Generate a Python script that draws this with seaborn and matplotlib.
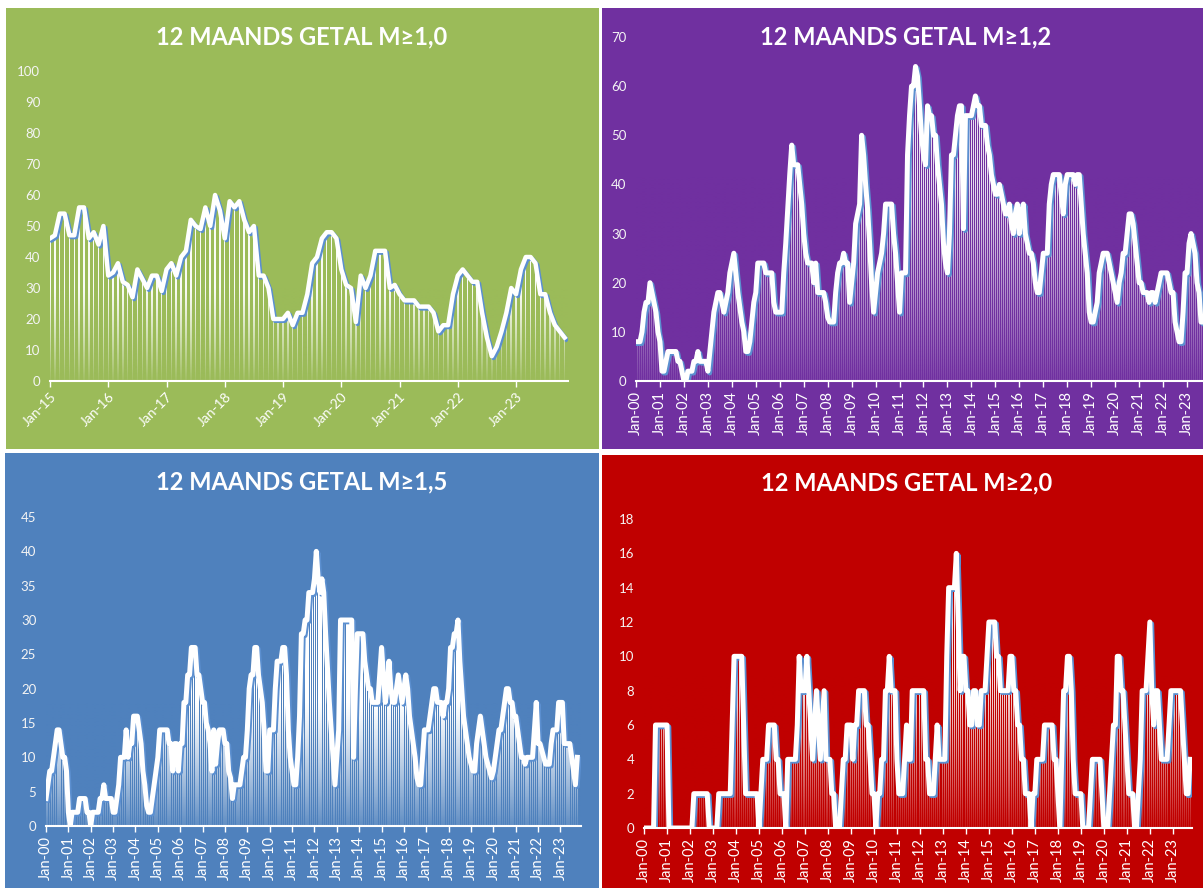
import numpy as np
import matplotlib
matplotlib.use("Agg")
import matplotlib.pyplot as plt
import matplotlib.patheffects as pe
from matplotlib.patches import Rectangle
from matplotlib.colors import to_rgb
import seaborn as sns

W, H = 1203, 888

# 12-month counts, monthly
m10_start = 2015
m10 = [46, 47, 54, 54, 47, 47, 56, 56, 46, 48, 44, 50,
       34, 35, 38, 32, 31, 27, 36, 33, 30, 34, 34, 29,
       36, 38, 34, 40, 42, 52, 50, 49, 56, 50, 60, 55,
       46, 58, 56, 58, 52, 48, 50, 34, 34, 30, 20, 20,
       20, 22, 18, 22, 22, 28, 38, 40, 46, 48, 48, 46,
       36, 31, 30, 19, 34, 30, 34, 42, 42, 42, 30, 31,
       28, 26, 26, 26, 24, 24, 24, 22, 16, 18, 18, 28,
       34, 36, 34, 32, 32, 22, 14, 8, 11, 16, 22, 30,
       28, 36, 40, 40, 38, 28, 28, 22, 18, 16, 14]

m12_start = 2000
m12 = [8, 8, 8, 10, 14, 16, 16, 20, 18, 16, 14, 10,
       8, 2, 2, 4, 6, 6, 6, 6, 6, 4, 4, 2,
       0, 0, 2, 2, 2, 4, 4, 6, 4, 4, 4, 4,
       2, 6, 10, 14, 16, 18, 18, 16, 14, 16, 18, 22,
       24, 26, 22, 18, 15, 12, 10, 6, 6, 8, 12, 16,
       18, 24, 24, 24, 24, 22, 22, 22, 22, 16, 14, 14,
       14, 14, 22, 28, 35, 42, 48, 44, 44, 44, 40, 36,
       30, 26, 24, 24, 24, 20, 24, 18, 18, 18, 18, 16,
       13, 12, 12, 12, 18, 22, 24, 24, 26, 24, 24, 16,
       20, 24, 32, 34, 36, 50, 46, 40, 35, 28, 20, 14,
       18, 22, 24, 26, 30, 36, 36, 36, 36, 30, 26, 20,
       14, 22, 22, 22, 46, 54, 60, 60, 64, 62, 56, 50,
       46, 44, 56, 54, 54, 50, 50, 44, 40, 36, 28, 24,
       22, 30, 46, 46, 50, 54, 56, 56, 31, 54, 54, 54,
       54, 56, 58, 56, 56, 52, 52, 52, 48, 46, 42, 40,
       38, 38, 40, 38, 36, 34, 34, 36, 32, 30, 34, 36,
       30, 34, 36, 30, 28, 26, 26, 24, 20, 18, 18, 22,
       26, 26, 26, 36, 40, 42, 42, 42, 42, 38, 34, 40,
       42, 42, 42, 42, 40, 42, 42, 36, 30, 26, 22, 14,
       12, 12, 14, 16, 22, 24, 26, 26, 26, 24, 22, 20,
       18, 16, 20, 22, 26, 26, 30, 34, 34, 32, 28, 24,
       20, 20, 18, 18, 18, 16, 18, 18, 16, 18, 20, 22,
       22, 22, 22, 20, 18, 18, 12, 10, 8, 8, 14, 22,
       22, 28, 30, 28, 26, 20, 18, 12, 12]

m15_start = 2000
m15 = [4, 6, 8, 8, 10, 12, 14, 14, 12, 10, 10, 8,
       2, 0, 2, 2, 2, 2, 4, 4, 4, 4, 2, 2,
       0, 2, 2, 2, 2, 4, 4, 6, 4, 4, 4, 4,
       2, 2, 4, 6, 10, 10, 10, 14, 10, 12, 12, 16,
       16, 16, 14, 12, 8, 6, 3, 2, 2, 4, 6, 8,
       10, 14, 14, 14, 14, 14, 12, 12, 8, 12, 12, 8,
       12, 12, 18, 18, 22, 22, 26, 26, 26, 22, 22, 20,
       18, 18, 15, 14, 12, 8, 14, 9, 12, 14, 14, 14,
       12, 12, 8, 7, 4, 6, 6, 6, 6, 8, 10, 10,
       14, 20, 22, 22, 26, 26, 22, 20, 18, 14, 8, 8,
       14, 14, 14, 20, 24, 24, 24, 26, 26, 22, 14, 10,
       8, 6, 6, 10, 16, 28, 28, 30, 30, 34, 34, 34,
       36, 40, 36, 34, 36, 34, 28, 23, 18, 14, 10, 6,
       10, 14, 30, 30, 30, 30, 30, 30, 30, 10, 20, 28,
       28, 28, 28, 24, 22, 20, 20, 18, 18, 18, 18, 22,
       26, 22, 18, 20, 24, 20, 18, 18, 20, 22, 20, 18,
       20, 22, 20, 16, 14, 12, 10, 7, 6, 6, 10, 14,
       14, 14, 16, 18, 20, 20, 18, 18, 18, 16, 18, 18,
       20, 26, 26, 28, 28, 30, 24, 20, 16, 14, 12, 10,
       9, 8, 8, 12, 14, 16, 14, 12, 10, 9, 8, 7,
       8, 10, 12, 14, 14, 16, 18, 20, 20, 18, 18, 16,
       16, 14, 12, 10, 10, 9, 10, 10, 10, 10, 14, 18,
       12, 12, 11, 10, 9, 9, 9, 12, 14, 14, 14, 18,
       18, 18, 12, 12, 12, 12, 10, 8, 6, 10]

m20_start = 2000
m20 = [0, 0, 0, 0, 0, 0, 6, 6, 6, 6, 6, 6,
       6, 0, 0, 0, 0, 0, 0, 0, 0, 0, 0, 0,
       0, 0, 2, 2, 2, 2, 2, 2, 2, 2, 0, 0,
       0, 0, 0, 2, 2, 2, 2, 2, 2, 2, 6, 10,
       10, 10, 10, 10, 6, 2, 2, 2, 2, 2, 2, 2,
       0, 2, 4, 4, 4, 6, 6, 6, 6, 4, 4, 2,
       2, 2, 0, 4, 4, 4, 4, 4, 6, 10, 8, 8,
       8, 10, 8, 6, 4, 6, 8, 6, 4, 6, 8, 4,
       4, 4, 2, 2, 0, 0, 0, 2, 4, 4, 6, 6,
       6, 4, 6, 6, 8, 8, 8, 8, 6, 6, 4, 2,
       2, 0, 2, 2, 4, 4, 8, 8, 10, 8, 8, 8,
       4, 2, 2, 2, 4, 6, 4, 4, 8, 8, 8, 8,
       8, 8, 8, 4, 4, 2, 2, 2, 4, 6, 4, 4,
       4, 4, 10, 14, 14, 14, 14, 16, 12, 8, 10, 10,
       8, 8, 6, 6, 8, 8, 6, 6, 8, 8, 8, 10,
       12, 12, 12, 12, 10, 10, 8, 8, 8, 8, 8, 10,
       10, 8, 8, 6, 6, 4, 4, 2, 2, 2, 0, 2,
       2, 4, 4, 4, 4, 6, 6, 6, 6, 6, 4, 4,
       2, 0, 4, 8, 8, 10, 10, 8, 4, 2, 2, 2,
       2, 0, 0, 0, 0, 2, 4, 4, 4, 4, 4, 2,
       0, 0, 0, 2, 4, 6, 6, 10, 10, 8, 8, 6,
       4, 2, 2, 2, 0, 0, 2, 4, 8, 8, 8, 10,
       12, 8, 6, 8, 8, 6, 4, 4, 4, 4, 6, 8,
       8, 8, 8, 8, 8, 6, 4, 2, 2, 4]

titles = ["12 MAANDS GETAL M\u22651,0", "12 MAANDS GETAL M\u22651,2",
          "12 MAANDS GETAL M\u22651,5", "12 MAANDS GETAL M\u22652,0"]

FONT = ["Lato", "DejaVu Sans"]


def frect(x0, y0, x1, y1):
    return [x0 / W, 1 - y1 / H, (x1 - x0) / W, (y1 - y0) / H]


def panel(fig, bg, color, title, tpos, vals, start, box, xmax, ymax, ystep,
          rot, bar_w, bar_alpha, fade_top, fade_max, lw):
    fig.add_artist(Rectangle((bg[0] / W, 1 - bg[3] / H), (bg[2] - bg[0]) / W,
                             (bg[3] - bg[1]) / H, transform=fig.transFigure,
                             facecolor=color, edgecolor="none", zorder=-5))
    fig.text(tpos[0] / W, 1 - tpos[1] / H, title, ha="center", va="center",
             color="white", fontsize=17, fontweight="bold", family=FONT)

    ax = fig.add_axes(frect(*box))
    ax.patch.set_alpha(0)
    idx = np.arange(len(vals))

    sns.barplot(x=idx, y=vals, ax=ax, native_scale=True, orient="x",
                width=bar_w, color="white", saturation=1, errorbar=None,
                linewidth=0, alpha=bar_alpha, zorder=1)

    # fade of the bars towards the axis
    rgb = to_rgb(color)
    n = 200
    frac = np.linspace(1, 0, n)  # top -> bottom of axes
    a = np.clip((fade_top - frac) / fade_top, 0, 1) ** 1.2 * fade_max
    grad = np.zeros((n, 1, 4))
    grad[:, 0, :3] = rgb
    grad[:, 0, 3] = a
    ax.imshow(grad, extent=[-2, xmax + 2, 0, ymax], aspect="auto",
              interpolation="bilinear", zorder=2)

    sns.lineplot(x=idx, y=vals, ax=ax, color="white", linewidth=lw,
                 zorder=3, solid_joinstyle="round",
                 path_effects=[pe.SimpleLineShadow(offset=(1.3, -1.3),
                                                   shadow_color="#5B8FD0",
                                                   alpha=1.0),
                               pe.Normal()])

    ax.set_xlim(0, xmax)
    ax.set_ylim(0, ymax)
    ax.set_xlabel("")
    ax.set_ylabel("")
    ticks = np.arange(0, xmax + 0.01, 12)
    ax.set_xticks(ticks)
    labels = ["Jan-%02d" % ((start + k) % 100) for k in range(len(ticks))]
    if rot == 45:
        ax.set_xticklabels(labels, rotation=45, ha="right",
                           rotation_mode="anchor", family=FONT, fontsize=10)
    else:
        ax.set_xticklabels(labels, rotation=90, ha="center", va="top",
                           family=FONT, fontsize=10.5)
    ax.set_yticks(np.arange(0, ymax + 0.01, ystep))
    ax.set_yticklabels([str(int(v)) for v in np.arange(0, ymax + 0.01, ystep)],
                       family=FONT, fontsize=9.5)
    ax.tick_params(axis="y", length=0, colors="#F4F4F4", pad=7)
    ax.tick_params(axis="x", length=4, width=1, colors="white", pad=3)
    for s in ["left", "right", "top"]:
        ax.spines[s].set_visible(False)
    ax.spines["bottom"].set_color("white")
    ax.spines["bottom"].set_linewidth(1.5)
    ax.spines["bottom"].set_zorder(4)
    ax.grid(False)
    return ax


fig = plt.figure(figsize=(W / 100, H / 100), dpi=100)
fig.patch.set_facecolor("white")

panel(fig, (6, 8, 599, 449), "#9BBB59", titles[0], (302, 37), m10, m10_start,
      (50, 71, 568, 381), 106.7, 100, 10, 45, 0.3, 0.95, 0.3, 0.95, 3.2)
panel(fig, (602, 8, 1203, 449), "#7030A0", titles[1], (906, 37), m12, m12_start,
      (636, 37, 1209, 381), 287, 70, 10, 90, 0.5, 0.85, 0.6, 0.9, 3.6)
panel(fig, (5, 453, 599, 888), "#4F81BD", titles[2], (302, 482), m15, m15_start,
      (46, 517, 581, 826), 287, 45, 5, 90, 0.6, 1.0, 0.4, 0.9, 3.6)
panel(fig, (602, 455, 1203, 888), "#C00000", titles[3], (907, 483), m20, m20_start,
      (644, 519, 1192, 828), 286, 18, 2, 90, 0.5, 0.9, 0.5, 0.9, 3.6)

fig.savefig("out.png", dpi=100)
